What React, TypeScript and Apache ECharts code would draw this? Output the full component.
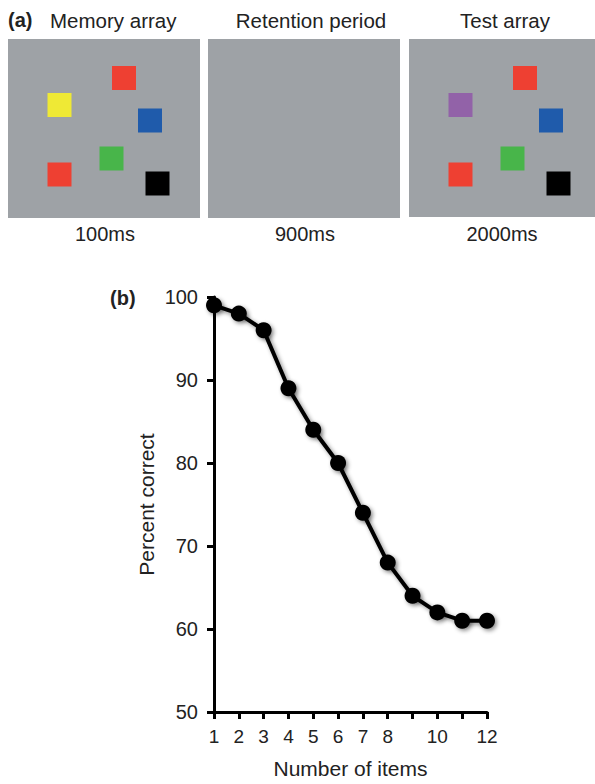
import React, { useEffect, useRef } from "react";
import * as echarts from "echarts";

// Panel (b) data
const setSizes = [1, 2, 3, 4, 5, 6, 7, 8, 9, 10, 11, 12];
const percentCorrect = [99, 98, 96, 89, 84, 80, 74, 68, 64, 62, 61, 61];
const yTicks = [50, 60, 70, 80, 90, 100];
const hiddenXLabels = [9, 11];

// Panel (a) schematic: square centres in panel units
const squareX = [116, 51.5, 142, 103.5, 51.5, 149.5];
const squareY = [39, 66, 81.5, 119.5, 135.5, 144.5];
const memoryColors = ["#ee4032", "#efe935", "#1f5bab", "#48b54a", "#ee4032", "#000000"];
const testColors = ["#ee4032", "#9262a8", "#1f5bab", "#48b54a", "#ee4032", "#000000"];
const panelTitles = ["Memory array", "Retention period", "Test array"];
const panelDurations = ["100ms", "900ms", "2000ms"];

const FONT = "Liberation Sans, Arial, Helvetica, sans-serif";
const TXT = "#222222";
const GRAY = "#9ea2a6";

export default function App() {
  const ref = useRef<HTMLDivElement>(null);
  useEffect(() => {
    if (!ref.current) return;
    const chart = echarts.init(ref.current, null, { renderer: "svg" });

    const panelGrids = [
      { left: 8, top: 39, width: 192, height: 179 },
      { left: 208, top: 39, width: 192, height: 179 },
      { left: 409, top: 39, width: 186, height: 178 },
    ];
    const grids: any[] = panelGrids.map((g) => ({
      ...g,
      show: true,
      backgroundColor: GRAY,
      borderWidth: 0,
      containLabel: false,
    }));
    grids.push({ left: 214, top: 297, width: 273, height: 420, containLabel: false });

    const xAxes: any[] = panelGrids.map((g, i) => ({
      gridIndex: i,
      type: "value",
      min: 0,
      max: g.width,
      show: false,
    }));
    const yAxes: any[] = panelGrids.map((g, i) => ({
      gridIndex: i,
      type: "value",
      min: 0,
      max: g.height,
      inverse: true,
      show: false,
    }));

    xAxes.push({
      gridIndex: 3,
      type: "value",
      min: setSizes[0],
      max: setSizes[setSizes.length - 1],
      interval: 1,
      name: "Number of items",
      nameLocation: "middle",
      nameGap: 46,
      nameTextStyle: { fontSize: 21, color: TXT, fontFamily: FONT },
      axisLine: { show: true, onZero: false, lineStyle: { color: "#000", width: 3 } },
      axisTick: { show: true, length: 7, lineStyle: { color: "#000", width: 3 } },
      axisLabel: {
        fontSize: 19,
        color: TXT,
        fontFamily: FONT,
        margin: 15,
        formatter: (v: number) => (hiddenXLabels.includes(v) ? "" : String(v)),
      },
      splitLine: { show: false },
    });
    yAxes.push({
      gridIndex: 3,
      type: "value",
      min: yTicks[0],
      max: yTicks[yTicks.length - 1],
      interval: 10,
      name: "Percent correct",
      nameLocation: "middle",
      nameGap: 57,
      nameRotate: 90,
      nameTextStyle: { fontSize: 21, color: TXT, fontFamily: FONT },
      axisLine: { show: true, onZero: false, lineStyle: { color: "#000", width: 3 } },
      axisTick: { show: true, length: 7, lineStyle: { color: "#000", width: 3 } },
      axisLabel: { fontSize: 20, color: TXT, fontFamily: FONT, margin: 16 },
      splitLine: { show: false },
    });

    const squares = (colors: string[]) =>
      squareX.map((x, i) => ({ value: [x, squareY[i]], itemStyle: { color: colors[i], opacity: 1 } }));

    const series: any[] = [
      {
        type: "scatter",
        xAxisIndex: 0,
        yAxisIndex: 0,
        symbol: "rect",
        symbolSize: 24,
        itemStyle: { opacity: 1 },
        data: squares(memoryColors),
        silent: true,
      },
      {
        type: "scatter",
        xAxisIndex: 2,
        yAxisIndex: 2,
        symbol: "rect",
        symbolSize: 24,
        itemStyle: { opacity: 1 },
        data: squares(testColors),
        silent: true,
      },
      {
        type: "line",
        xAxisIndex: 3,
        yAxisIndex: 3,
        data: setSizes.map((n, i) => [n, percentCorrect[i]]),
        symbol: "circle",
        symbolSize: 16,
        showAllSymbol: true,
        clip: false,
        lineStyle: {
          color: "#000",
          width: 4,
          shadowBlur: 4,
          shadowOffsetX: 2,
          shadowOffsetY: 2,
          shadowColor: "rgba(0,0,0,0.45)",
        },
        itemStyle: {
          color: "#000",
          borderWidth: 0,
          opacity: 1,
          shadowBlur: 4,
          shadowOffsetX: 2,
          shadowOffsetY: 2,
          shadowColor: "rgba(0,0,0,0.45)",
        },
        z: 5,
      },
    ];

    const txt = (text: string, x: number, y: number, align: string, bold = false, size = 20) => ({
      type: "text",
      x,
      y,
      silent: true,
      style: {
        text,
        fill: TXT,
        fontSize: size,
        fontFamily: FONT,
        fontWeight: bold ? "bold" : "normal",
        textAlign: align,
        textVerticalAlign: "middle",
      },
    });

    const graphic: any[] = [
      txt("(a)", 8, 20, "left", true),
      txt(panelTitles[0], 50, 20, "left", false, 20.5),
      txt(panelTitles[1], 311, 20, "center", false, 20.5),
      txt(panelTitles[2], 505, 20, "center", false, 20.5),
      txt(panelDurations[0], 105, 234, "center"),
      txt(panelDurations[1], 305, 234, "center"),
      txt(panelDurations[2], 502, 234, "center"),
      txt("(b)", 110, 298, "left", true),
    ];

    chart.setOption({
      animation: false,
      backgroundColor: "#ffffff",
      grid: grids,
      xAxis: xAxes,
      yAxis: yAxes,
      series,
      graphic,
    });
    return () => chart.dispose();
  }, []);

  return (
    <div
      ref={ref}
      style={{ position: "fixed", left: 0, top: 0, width: 595, height: 784 }}
    />
  );
}
